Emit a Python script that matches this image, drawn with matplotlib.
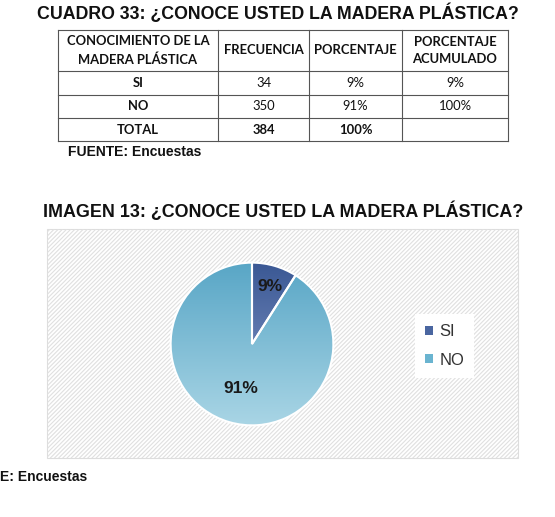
import numpy as np
import matplotlib.pyplot as plt
from matplotlib.patches import Rectangle, Patch
from matplotlib.colors import to_rgb

# datos
categorias = ['SI', 'NO']
frecuencia = [34, 350]
porcentaje = ['9%', '91%']
acumulado = ['9%', '100%']
total_frec = 384
total_pct = '100%'
valores_pie = [9, 91]

plt.rcParams['hatch.color'] = '#e0e0e0'
plt.rcParams['hatch.linewidth'] = 0.8

W, H = 555, 517
fig = plt.figure(figsize=(W / 100, H / 100), dpi=100)
ax = fig.add_axes([0, 0, 1, 1])
ax.set_xlim(0, W)
ax.set_ylim(H, 0)
ax.axis('off')

tit = dict(family='Liberation Sans', weight='bold', color='#111111')
ax.text(277.5, 13, 'CUADRO 33: ¿CONOCE USTED LA MADERA PLÁSTICA?', ha='center', va='center', fontsize=12.8, **tit)

# tabla
xs = [58, 218, 309, 402, 508]
ys = [30, 71, 94.5, 118, 141]
for x in xs:
    ax.plot([x, x], [ys[0], ys[-1]], color='#555555', lw=0.8)
for y in ys:
    ax.plot([xs[0], xs[-1]], [y, y], color='#555555', lw=0.8)

tf = dict(family='Lato', fontsize=9.4, color='#111111', ha='center', va='center')
cx = [(xs[i] + xs[i + 1]) / 2 for i in range(4)]
encab = ['CONOCIMIENTO DE LA\nMADERA PLÁSTICA', 'FRECUENCIA', 'PORCENTAJE', 'PORCENTAJE\nACUMULADO']
for c, t in zip(cx, encab):
    ax.text(c, (ys[0] + ys[1]) / 2, t, weight='bold', linespacing=1.55, **tf)
for i, cat in enumerate(categorias):
    yc = (ys[i + 1] + ys[i + 2]) / 2
    ax.text(cx[0], yc, cat, weight='bold', **tf)
    ax.text(cx[1], yc, str(frecuencia[i]), **tf)
    ax.text(cx[2], yc, porcentaje[i], **tf)
    ax.text(cx[3], yc, acumulado[i], **tf)
yc = (ys[3] + ys[4]) / 2
ax.text(cx[0], yc, 'TOTAL', weight='bold', **tf)
ax.text(cx[1], yc, str(total_frec), weight='bold', **tf)
ax.text(cx[2], yc, total_pct, weight='bold', **tf)

ax.text(68, 152, 'FUENTE: Encuestas', ha='left', va='center', fontsize=10, **tit)

ax.text(283.5, 211, 'IMAGEN 13: ¿CONOCE USTED LA MADERA PLÁSTICA?', ha='center', va='center', fontsize=12.9, **tit)

# area del grafico con trama diagonal
ax.add_patch(Rectangle((46.5, 229), 471, 229, facecolor='white', edgecolor='#dddddd', lw=0.8))
ax.add_patch(Rectangle((46.5, 229), 471, 229, facecolor='none', lw=0, hatch='////////'))

ax.text(0, 477, 'E: Encuestas', ha='left', va='center', fontsize=10, **tit)

# pastel
cxp, cyp, r = 252, 344, 83
pax = fig.add_axes([(cxp - r) / W, 1 - (cyp + r) / H, 2 * r / W, 2 * r / H])
wedges, _ = pax.pie(valores_pie, startangle=90, counterclock=False, radius=1,
                    wedgeprops=dict(edgecolor='white', linewidth=1.5))
grads = [('#3a5894', '#8d9fce'), ('#58a6c6', '#a9d5e5')]
for w, (c1, c2) in zip(wedges, grads):
    a = np.array(to_rgb(c1))
    b = np.array(to_rgb(c2))
    t = np.linspace(0, 1, 256)[:, None]
    img = (a + (b - a) * t)[:, None, :]
    im = pax.imshow(img, extent=(-1, 1, -1, 1), origin='upper', aspect='auto', zorder=1)
    im.set_clip_path(w)
    w.set_facecolor('none')
    w.set_zorder(2)
pax.set_xlim(-1.02, 1.02)
pax.set_ylim(-1.02, 1.02)
pax.axis('off')

lf = dict(family='Liberation Sans', weight='bold', fontsize=12.5, color='#1a1a1a', ha='center', va='center', zorder=5)
pax.text((270 - cxp) / r, (cyp - 285) / r, porcentaje[0], **lf)
pax.text((241 - cxp) / r, (cyp - 389) / r, porcentaje[1], **lf)

handles = [Patch(facecolor='#4a66a0'), Patch(facecolor='#6ab4d0')]
leg = ax.legend(handles, categorias, loc='center left', bbox_to_anchor=(407 / W, 1 - 346 / H),
                frameon=True, facecolor='white', edgecolor='none', framealpha=1,
                prop={'family': 'Liberation Sans', 'size': 12}, handlelength=0.45, handleheight=0.45,
                handletextpad=0.4, labelspacing=0.8, borderpad=0.6, fancybox=False)
for t in leg.get_texts():
    t.set_color('#333333')

fig.savefig('out.png', dpi=100)
